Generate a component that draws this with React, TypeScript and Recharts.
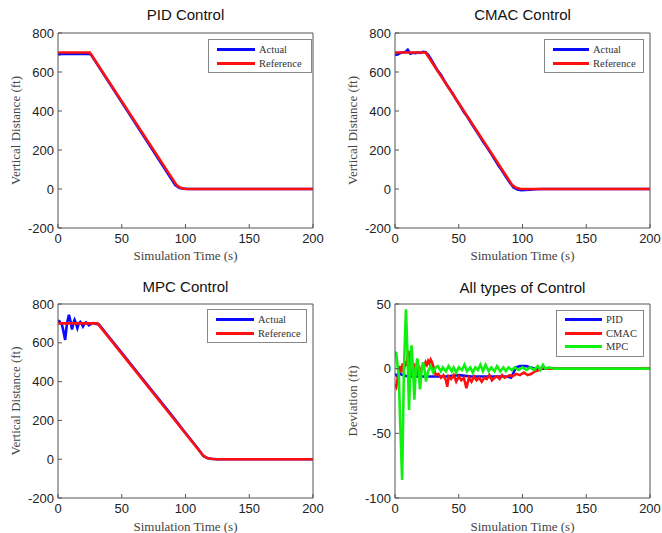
import React from "react"
import { LineChart, Line, XAxis, YAxis, Legend } from "recharts"

type Pt = [number, number]

const timeTicks = [0, 50, 100, 150, 200]
const distanceTicks = [-200, 0, 200, 400, 600, 800]
const deviationTicks = [-100, -50, 0, 50]

// PID panel
const pidActual: Pt[] = [
  [0, 690], [3, 692], [10, 693], [24, 694], [26, 688], [92, 20], [95, 6], [98, 2], [102, 0], [200, 0],
]
const pidReference: Pt[] = [
  [0, 700], [25, 700], [93, 20], [96, 6], [99, 1], [103, 0], [200, 0],
]

// CMAC panel
const cmacActual: Pt[] = [
  [0, 688], [2, 690], [4, 697], [6, 700], [8, 702], [10, 714], [12, 694], [14, 699], [16, 696],
  [18, 700], [20, 698], [22, 704], [24, 702], [26, 688], [28, 668], [30, 645], [33, 612], [36, 586],
  [39, 552], [42, 520], [45, 492], [48, 458], [51, 428], [54, 395], [57, 368], [60, 335], [63, 305],
  [66, 275], [69, 243], [72, 215], [75, 185], [78, 153], [81, 122], [84, 93], [87, 62], [90, 33],
  [93, 8], [96, -3], [99, -6], [102, -5], [106, -3], [110, -1], [115, 0], [200, 0],
]
const cmacReference: Pt[] = [
  [0, 700], [24, 700], [92, 20], [95, 6], [98, 1], [102, 0], [200, 0],
]

// MPC panel
const mpcActual: Pt[] = [
  [0, 714], [1, 712], [2, 702], [3, 696], [4, 668], [5.6, 615], [7, 698], [8.6, 745], [10, 705],
  [11, 668], [12, 700], [13, 718], [14, 702], [15.2, 676], [16.3, 700], [17.5, 708], [18.5, 700],
  [19.6, 684], [21, 700], [22, 705], [23, 700], [24.3, 690], [26, 698], [28, 702], [30, 697],
  [32, 696], [40, 630], [50, 548], [60, 466], [70, 384], [80, 302], [90, 220], [100, 135],
  [110, 53], [114, 17], [117, 6], [120, 2], [125, 0], [200, 0],
]
const mpcReference: Pt[] = [
  [0, 700], [31, 700], [114, 18], [117, 6], [121, 1], [126, 0], [200, 0],
]

// deviation panel
const pidDeviation: Pt[] = [
  [0, -4], [2, -6], [4, -4], [6, -5], [10, -6], [20, -6], [30, -6], [40, -6], [50, -5], [60, -6],
  [70, -6], [80, -6], [88, -6], [91, -7], [93, -3], [95, 1], [98, 2], [103, 2], [106, 1], [110, 0],
  [200, 0],
]
const cmacDeviation: Pt[] = [
  [0, -12], [1, -14], [2, -8], [3, -2], [4, 2], [5, -3], [6, 4], [7, 0], [8, 6], [9, 2], [10.5, 14],
  [12, -6], [13, 2], [14, -4], [15, 4], [16, -2], [17, 1], [18, -5], [19, 0], [20, -3], [21, 1],
  [22, 3], [23, 2], [24, 5], [25, 3], [26, 6], [27, 4], [28, 7], [29, 5], [30, 2], [31, -2],
  [32, -5], [34, -4], [36, -7], [38, -5], [40, -9], [41, -14], [42, -6], [44, -8], [46, -5],
  [48, -10], [50, -6], [52, -9], [54, -7], [56, -15], [58, -7], [60, -10], [62, -6], [64, -9],
  [66, -7], [68, -10], [70, -7], [72, -8], [74, -5], [76, -9], [78, -7], [80, -6], [82, -8],
  [84, -5], [86, -7], [88, -6], [90, -5], [92, -6], [95, -4], [98, -5], [101, -3], [104, -5],
  [107, -4], [110, -2], [113, -1], [116, 1], [119, 0], [200, 0],
]
const mpcDeviation: Pt[] = [
  [0, 13], [1, 12], [2, 2], [3, -5], [4, -40], [5.6, -86], [7, 0], [8.6, 46], [10, 5], [11, -32],
  [12, 0], [13, 18], [14, 2], [15.2, -24], [16.3, 0], [17.5, 8], [18.5, 0], [19.6, -16], [21, 0],
  [22, 5], [23, 0], [24.3, -10], [26, -2], [28, 2], [30, -3], [32, 1], [33.5, 2], [36, -2], [37.5, 1],
  [40, -2], [42, 2], [44.5, -2], [46, 1], [48, -3], [50, 1], [52.5, -1], [54.5, 3], [56.5, -2],
  [59, 1], [61, -3], [63, 1], [65, -1], [67, 3], [69, -2], [71, 3], [73.5, -2], [75.5, 1], [78, -2],
  [80, 2], [82.5, -2], [85, 1], [87, -2], [89, 1], [91.5, -1], [94, 1], [97, -1], [100, 1],
  [103, -1], [106, 1], [109, -1], [112, 2], [114, -1], [116, 3], [118, 0], [121, 1], [125, 0],
  [200, 0],
]

const BLUE = "#0a0aff"
const RED = "#ff1010"
const GREEN = "#10f010"
const AXIS = "#555"
const SANS = '"Liberation Sans", Arial, sans-serif'
const SERIF = '"Liberation Serif", "Times New Roman", serif'

const toRows = (pts: Pt[]) => pts.map(([t, v]) => ({ t, v }))

interface Series { name: string; color: string; points: Pt[] }

interface PanelProps {
  left: number
  top: number
  height: number
  marginTop: number
  marginRight: number
  yAxisWidth: number
  title: string
  titleOffset: number
  yLabel: string
  yLabelOffset: number
  xLabelOffset: number
  yDomain: [number, number]
  yTicks: number[]
  series: Series[]
  legend: { left: number; top: number; width: number; rowH: number; lineW: number }
}

function LegendBox({ series, cfg }: { series: Series[]; cfg: PanelProps["legend"] }) {
  return (
    <div
      style={{
        border: "1px solid #888",
        background: "#fff",
        padding: "2px 0 2px 8px",
        fontFamily: SERIF,
        fontSize: 10.5,
        color: "#333",
        boxSizing: "border-box",
        width: cfg.width,
      }}
    >
      {series.map((s) => (
        <div key={s.name} style={{ display: "flex", alignItems: "center", height: cfg.rowH }}>
          <span style={{ display: "inline-block", width: cfg.lineW, height: 3, background: s.color, marginRight: 4 }} />
          <span>{s.name}</span>
        </div>
      ))}
    </div>
  )
}

function Panel(p: PanelProps) {
  const tickFont = { fontSize: 13, fontFamily: SANS, fill: "#222" }
  const labelFont = { fontSize: 13, fontFamily: SERIF, fill: "#444" }
  const plotH = p.height === 266 ? 195 : 194
  return (
    <div style={{ position: "absolute", left: p.left, top: p.top }}>
      <LineChart
        width={331}
        height={p.height}
        margin={{ top: p.marginTop - 1, right: p.marginRight - 1, bottom: 0, left: 0 }}
      >
        <XAxis
          dataKey="t"
          type="number"
          domain={[0, 200]}
          ticks={timeTicks}
          allowDataOverflow
          height={p.height - p.marginTop - plotH}
          stroke={AXIS}
          tickSize={-4}
          tickMargin={10}
          tick={tickFont}
          label={{ value: "Simulation Time (s)", position: "insideBottom", offset: p.xLabelOffset, style: labelFont }}
        />
        <XAxis
          xAxisId="top"
          orientation="top"
          type="number"
          domain={[0, 200]}
          ticks={timeTicks}
          allowDataOverflow
          height={1}
          stroke={AXIS}
          tickSize={-4}
          tick={false}
          label={{
            value: p.title,
            position: "top",
            offset: p.titleOffset,
            style: { fontSize: 15, fontFamily: SANS, fill: "#111" },
          }}
        />
        <YAxis
          type="number"
          domain={p.yDomain}
          ticks={p.yTicks}
          allowDataOverflow
          width={p.yAxisWidth}
          stroke={AXIS}
          tickSize={-4}
          tickMargin={8}
          tick={tickFont}
          label={{
            value: p.yLabel,
            angle: -90,
            position: "insideLeft",
            offset: p.yLabelOffset,
            style: { ...labelFont, textAnchor: "middle" },
          }}
        />
        <YAxis
          yAxisId="right"
          orientation="right"
          type="number"
          domain={p.yDomain}
          ticks={p.yTicks}
          allowDataOverflow
          width={1}
          stroke={AXIS}
          tickSize={-4}
          tick={false}
        />
        {p.series.map((s) => (
          <Line
            key={s.name}
            data={toRows(s.points)}
            dataKey="v"
            name={s.name}
            type="linear"
            stroke={s.color}
            strokeWidth={2.6}
            dot={false}
            isAnimationActive={false}
          />
        ))}
        <Legend
          layout="vertical"
          align="center"
          verticalAlign="middle"
          wrapperStyle={{ left: p.legend.left, top: p.legend.top, width: p.legend.width, height: "auto" }}
          content={() => <LegendBox series={p.series} cfg={p.legend} />}
        />
      </LineChart>
    </div>
  )
}

export default function App() {
  return (
    <div style={{ position: "absolute", left: 0, top: 0, width: 662, height: 533, background: "#fff" }}>
      <Panel
        left={0}
        top={0}
        height={266}
        marginTop={33}
        marginRight={18}
        yAxisWidth={58}
        title="PID Control"
        titleOffset={12}
        yLabel="Vertical Distance (ft)"
        yLabelOffset={15}
        xLabelOffset={6}
        yDomain={[-200, 800]}
        yTicks={distanceTicks}
        series={[
          { name: "Actual", color: BLUE, points: pidActual },
          { name: "Reference", color: RED, points: pidReference },
        ]}
        legend={{ left: 208, top: 39, width: 104, rowH: 14, lineW: 38 }}
      />
      <Panel
        left={331}
        top={0}
        height={266}
        marginTop={33}
        marginRight={12}
        yAxisWidth={64}
        title="CMAC Control"
        titleOffset={12}
        yLabel="Vertical Distance (ft)"
        yLabelOffset={21}
        xLabelOffset={6}
        yDomain={[-200, 800]}
        yTicks={distanceTicks}
        series={[
          { name: "Actual", color: BLUE, points: cmacActual },
          { name: "Reference", color: RED, points: cmacReference },
        ]}
        legend={{ left: 213, top: 39, width: 100, rowH: 14, lineW: 36 }}
      />
      <Panel
        left={0}
        top={266}
        height={267}
        marginTop={38}
        marginRight={18}
        yAxisWidth={58}
        title="MPC Control"
        titleOffset={11}
        yLabel="Vertical Distance (ft)"
        yLabelOffset={15}
        xLabelOffset={2}
        yDomain={[-200, 800]}
        yTicks={distanceTicks}
        series={[
          { name: "Actual", color: BLUE, points: mpcActual },
          { name: "Reference", color: RED, points: mpcReference },
        ]}
        legend={{ left: 207, top: 43, width: 100, rowH: 14, lineW: 38 }}
      />
      <Panel
        left={331}
        top={266}
        height={267}
        marginTop={38}
        marginRight={12}
        yAxisWidth={64}
        title="All types of Control"
        titleOffset={10}
        yLabel="Deviation (ft)"
        yLabelOffset={21}
        xLabelOffset={2}
        yDomain={[-100, 50]}
        yTicks={deviationTicks}
        series={[
          { name: "PID", color: BLUE, points: pidDeviation },
          { name: "CMAC", color: RED, points: cmacDeviation },
          { name: "MPC", color: GREEN, points: mpcDeviation },
        ]}
        legend={{ left: 225, top: 44, width: 88, rowH: 13.5, lineW: 37 }}
      />
    </div>
  )
}
